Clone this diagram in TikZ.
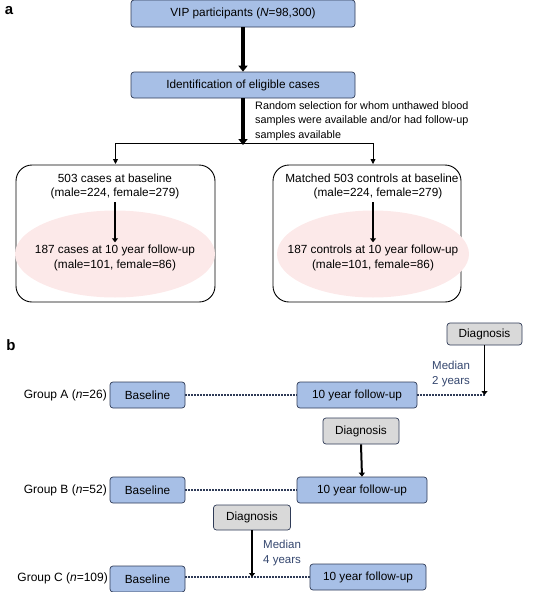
\documentclass[tikz,border=0pt]{standalone}
\usepackage{fontspec}
\setmainfont{Liberation Sans}
\usetikzlibrary{arrows.meta,shapes.geometric,calc}
\definecolor{boxblue}{HTML}{A7BFE6}
\definecolor{boxedge}{HTML}{2F3B57}
\definecolor{boxgray}{HTML}{D9D9D9}
\definecolor{medtext}{HTML}{34466E}
\definecolor{ellpink}{HTML}{FCE9E9}
\tikzset{
  bluebox/.style={draw=boxedge, fill=boxblue, rounded corners=3pt, line width=0.7pt, inner sep=0pt, font=\fontsize{11.8}{14}\selectfont},
  graybox/.style={draw=boxedge, fill=boxgray, rounded corners=3pt, line width=0.7pt, inner sep=0pt, font=\fontsize{11.8}{14}\selectfont},
  bigbox/.style={draw=black, rounded corners=16pt, line width=0.9pt, inner sep=0pt},
  txt/.style={inner sep=0pt, font=\fontsize{11.8}{14}\selectfont},
  grouptxt/.style={inner sep=0pt, font=\fontsize{12}{14}\selectfont},
  smalltxt/.style={inner sep=0pt, font=\fontsize{10.8}{14.5}\selectfont, align=left},
  medtxt/.style={inner sep=0pt, font=\fontsize{11.5}{14.5}\selectfont, align=left, text=medtext},
  thickarrow/.style={line width=3.2pt, -{Triangle[width=9pt,length=6pt]}},
  thinarrow/.style={line width=0.8pt, -{Triangle[width=5pt,length=5pt]}},
  midarrow/.style={line width=2pt, -{Triangle[width=6pt,length=4pt]}, draw=black},
  dotline/.style={line width=2pt, dash pattern=on 2pt off 1pt, draw=boxedge},
  panel/.style={inner sep=0pt, font=\fontsize{15}{15}\selectfont\bfseries},
  pinkell/.style={ellipse, fill=ellpink, draw=none, inner sep=0pt}
}
\begin{document}
\begin{tikzpicture}[x=1pt,y=-1pt]
\useasboundingbox (0,0) rectangle (543,592);
% ---------- panel a ----------
\node[panel] (la) at (9,11) {a};
\node[bluebox, minimum width=224pt, minimum height=27pt] (vip) at (243,13.5) {VIP participants (\textit{N}=98,300)};
\node[bluebox, minimum width=224pt, minimum height=26pt] (ident) at (243,85) {Identification of eligible cases};
\draw[thickarrow] (vip.south) -- (ident.north);
\coordinate (split) at (243,145);
\draw[line width=3.2pt] (ident.south) -- (243,138);
\draw[thickarrow] (243,136) -- (split);
\node[smalltxt, anchor=north west] (rand) at (255,101) {Random selection for whom unthawed blood\\samples were available and/or had follow-up\\samples available};
% big boxes
\node[bigbox, minimum width=199pt, minimum height=137pt] (lbox) at (115.5,233.5) {};
\node[bigbox, minimum width=188pt, minimum height=137pt] (rbox) at (367,233.5) {};
\coordinate (rtop) at (373,164);
\coordinate (ltop) at (115.5,164);
\draw[line width=0.8pt] (115.5,143) -- (373,143);
\draw[thinarrow] (115.5,143) -- (ltop);
\draw[thinarrow] (373,143) -- (rtop);
% ellipses
\node[pinkell, minimum width=200pt, minimum height=87pt] (lell) at (115,254) {};
\node[pinkell, minimum width=192pt, minimum height=87pt] (rell) at (373,254) {};
% left texts
\node[txt] (lb1) at (115,178) {503 cases at baseline};
\node[txt] (lb2) at (115,193.5) {(male=224, female=279)};
\node[txt] (lf1) at (115,250) {187 cases at 10 year follow-up};
\node[txt] (lf2) at (115,265.5) {(male=101, female=86)};
\draw[midarrow] (lb2.south) ++(0,3) -- ($(lf1.north)+(0,-2)$);
% right texts
\node[txt] (rb1) at (372,178) {Matched 503 controls at baseline};
\node[txt] (rb2) at (378,193.5) {(male=224, female=279)};
\node[txt] (rf1) at (373,250) {187 controls at 10 year follow-up};
\node[txt] (rf2) at (373,265.5) {(male=101, female=86)};
\draw[midarrow] ($(rb2.south -| rf1.north)+(0,3)$) -- ($(rf1.north)+(0,-2)$);
% ---------- panel b ----------
\node[panel] (lb) at (11,345) {b};
% group A
\node[graybox, minimum width=75pt, minimum height=22pt] (diagA) at (484.5,334) {Diagnosis};
\node[bluebox, minimum width=75pt, minimum height=26pt] (baseA) at (147.5,395) {Baseline};
\node[bluebox, minimum width=120pt, minimum height=26pt] (fuA) at (357,395) {10 year follow-up};
\node[grouptxt, anchor=east] (gA) at (107,395) {Group A (\textit{n}=26)};
\coordinate (endA) at (diagA.south |- fuA.east);
\draw[dotline] (baseA.east) -- (fuA.west);
\draw[dotline] (fuA.east) -- (endA);
\draw[midarrow, line width=1.6pt] (diagA.south) -- (endA);
\node[medtxt, anchor=north west] (medA) at (432,361) {Median\\2 years};
% group B
\node[graybox, minimum width=76pt, minimum height=26pt] (diagB) at (361,431) {Diagnosis};
\node[bluebox, minimum width=75pt, minimum height=26pt] (baseB) at (147.5,490) {Baseline};
\node[bluebox, minimum width=130pt, minimum height=26pt] (fuB) at (362,490) {10 year follow-up};
\node[grouptxt, anchor=east] (gB) at (107,490) {Group B (\textit{n}=52)};
\draw[dotline] (baseB.east) -- (fuB.west);
\draw[midarrow] (diagB.south) -- (fuB.north);
% group C
\node[graybox, minimum width=77pt, minimum height=25pt] (diagC) at (252,517.5) {Diagnosis};
\node[bluebox, minimum width=75pt, minimum height=26pt] (baseC) at (147.5,579) {Baseline};
\node[bluebox, minimum width=116pt, minimum height=26pt] (fuC) at (368,577) {10 year follow-up};
\node[grouptxt, anchor=east] (gC) at (108,578) {Group C (\textit{n}=109)};
\coordinate (endC) at (252,577);
\draw[dotline] (baseC.east |- endC) -- (fuC.west);
\draw[midarrow, line width=1.6pt] (diagC.south) -- (endC);
\node[medtxt, anchor=north west] (medC) at (263,540) {Median\\4 years};
\end{tikzpicture}
\end{document}
